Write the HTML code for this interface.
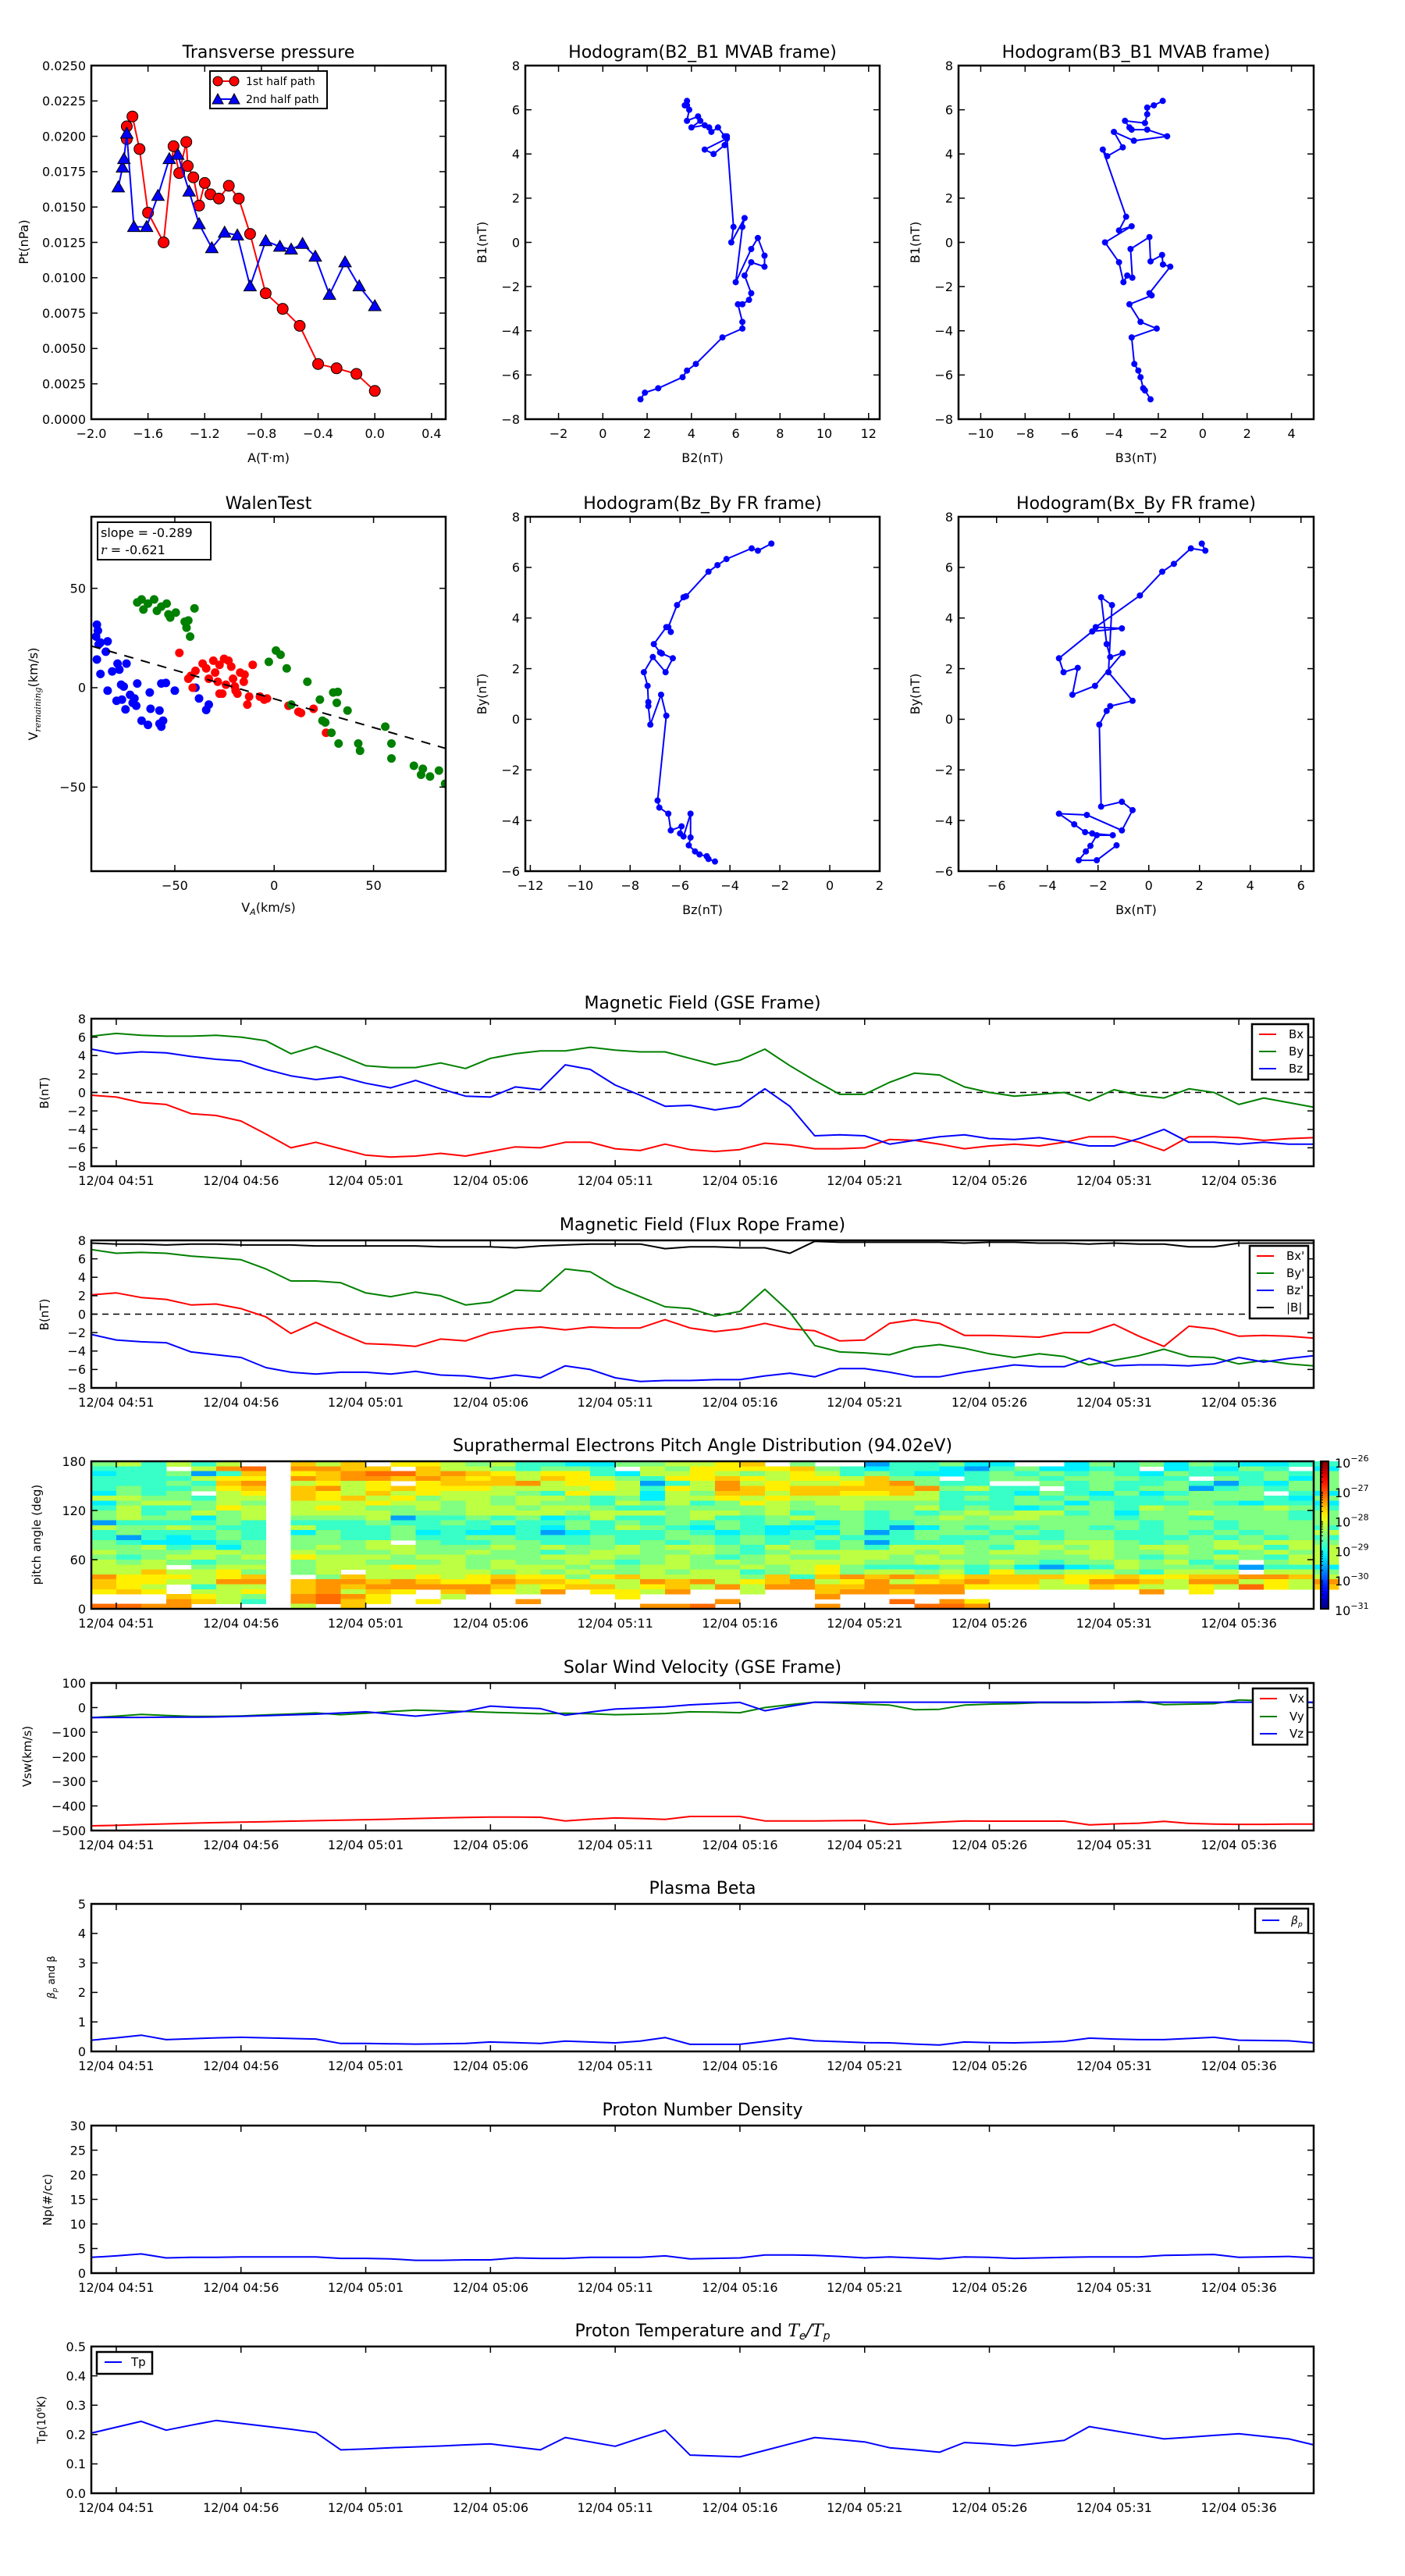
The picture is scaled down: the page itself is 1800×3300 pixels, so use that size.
<!DOCTYPE html>
<html><head><meta charset="utf-8">
<style>
html,body{margin:0;padding:0;background:#fff;}
svg{display:block;font-family:"DejaVu Sans","Liberation Sans",sans-serif;}
</style></head>
<body>
<svg id="fig" width="1800" height="3300" viewBox="0 0 1800 3300" xmlns="http://www.w3.org/2000/svg">
<rect x="0" y="0" width="1800" height="3300" fill="#fff"/>
</svg>
<script>
// ---------- Transverse pressure data ----------
const tpA1 = [-1.75,-1.75,-1.71,-1.66,-1.60,-1.49,-1.42,-1.38,-1.33,-1.32,-1.28,-1.24,-1.20,-1.16,-1.10,-1.03,-0.96,-0.88,-0.77,-0.65,-0.53,-0.40,-0.27,-0.13,0.0];
const tpP1 = [0.0198,0.0207,0.0214,0.0191,0.0146,0.0125,0.0193,0.0174,0.0196,0.0179,0.0171,0.0151,0.0167,0.0159,0.0156,0.0165,0.0156,0.0131,0.0089,0.0078,0.0066,0.0039,0.0036,0.0032,0.0020];
const tpA2 = [-1.81,-1.78,-1.77,-1.75,-1.70,-1.61,-1.53,-1.45,-1.39,-1.31,-1.24,-1.15,-1.06,-0.97,-0.88,-0.77,-0.67,-0.59,-0.51,-0.42,-0.32,-0.21,-0.11,0.0];
const tpP2 = [0.0164,0.0178,0.0184,0.0202,0.0136,0.0136,0.0158,0.0184,0.0187,0.0161,0.0138,0.0121,0.0132,0.0130,0.0094,0.0126,0.0122,0.0120,0.0124,0.0115,0.0088,0.0111,0.0094,0.0080];
// ---------- Hodograms ----------
const hB2 = [3.8,3.8,3.7,3.9,3.8,4.3,4.4,4.0,4.6,4.8,4.9,5.2,5.5,5.6,4.6,5.0,5.5,5.6,5.9,5.8,6.4,6.3,6.0,6.7,7.0,7.3,7.3,6.7,6.4,6.7,6.6,6.3,6.1,6.3,6.3,5.4,4.2,3.8,3.6,2.5,1.9,1.7];
const hB1a = [6.4,6.2,6.2,6.0,5.5,5.7,5.5,5.2,5.3,5.2,5.0,5.2,4.8,4.7,4.2,4.0,4.4,4.8,0.7,0.0,1.1,0.7,-1.8,-0.3,0.2,-0.6,-1.1,-0.9,-1.5,-2.3,-2.6,-2.8,-2.8,-3.6,-3.9,-4.3,-5.5,-5.8,-6.1,-6.6,-6.8,-7.1];
const hB3 = [-1.8,-2.2,-2.5,-2.5,-2.6,-3.5,-3.3,-3.2,-2.5,-1.6,-3.1,-4.0,-3.6,-4.3,-4.5,-3.45,-3.77,-3.2,-4.4,-3.77,-3.57,-3.4,-3.17,-3.25,-2.4,-2.35,-1.83,-1.79,-1.46,-2.4,-2.3,-3.3,-2.8,-2.07,-3.2,-3.08,-2.9,-2.8,-2.68,-2.6,-2.35];
const hB1b = [6.4,6.2,6.1,5.8,5.4,5.5,5.2,5.1,5.1,4.8,4.6,5.0,4.3,3.9,4.2,1.16,0.54,0.73,0.0,-0.9,-1.8,-1.5,-1.6,-0.3,0.24,-0.86,-0.57,-1.0,-1.1,-2.3,-2.4,-2.8,-3.6,-3.9,-4.3,-5.5,-5.8,-6.1,-6.6,-6.7,-7.1];
const hBz = [-2.34,-2.88,-3.13,-4.14,-4.5,-4.86,-5.76,-5.86,-6.12,-6.47,-6.37,-6.55,-7.05,-6.8,-6.73,-6.29,-6.58,-7.09,-7.45,-7.3,-7.27,-7.27,-7.19,-6.76,-6.55,-6.9,-6.83,-6.47,-6.37,-5.94,-6.0,-5.86,-5.58,-5.58,-5.65,-5.4,-5.22,-4.93,-4.86,-4.6];
const hByA = [6.94,6.66,6.75,6.33,6.09,5.83,4.86,4.82,4.51,3.64,3.45,3.64,2.97,2.64,2.6,2.41,1.86,2.46,1.86,1.32,0.68,0.52,-0.21,0.97,0.14,-3.21,-3.49,-3.73,-4.39,-4.23,-4.51,-4.63,-3.73,-4.67,-4.98,-5.22,-5.34,-5.41,-5.52,-5.62];
const hBx = [2.09,2.23,1.66,0.99,0.53,-0.35,-2.09,-1.06,-2.23,-3.54,-3.36,-2.8,-3.01,-2.12,-1.03,-1.52,-1.66,-1.88,-1.45,-1.59,-0.64,-1.52,-1.66,-1.95,-1.88,-1.06,-0.64,-1.06,-2.44,-3.54,-2.94,-2.51,-2.23,-1.42,-2.05,-2.3,-2.48,-2.76,-2.05,-1.27];
const hByB = [6.94,6.66,6.75,6.14,5.83,4.89,3.64,3.59,3.47,2.41,1.86,2.03,0.97,1.32,2.62,2.46,2.97,4.82,4.51,1.86,0.73,0.52,0.33,-0.21,-3.45,-3.26,-3.59,-4.39,-3.78,-3.73,-4.15,-4.46,-4.51,-4.58,-4.58,-5.0,-5.22,-5.57,-5.57,-4.98];
// ---------- Walen test ----------
const walBlueX = [-89.2,-88.7,-89.6,-88.3,-87.4,-83.8,-89.2,-84.7,-87.4,-81.5,-77.9,-78.8,-74.3,-83.8,-77,-75.7,-76.6,-74.8,-79.3,-72.5,-70.3,-68.9,-71.2,-69.4,-66.7,-63.5,-62.6,-62.2,-57.7,-56.8,-54.5,-50,-57.7,-56.8,-55.9,-37.8,-34.2,-32.9,-39.6];
const walBlueY = [31.7,28.7,25.7,21.8,22.7,23.3,14.2,18.1,6.9,8.2,9.1,12.1,12.1,-1.5,1.5,0.6,-6,-10.9,-6.6,-3.6,-5.4,2.1,-7.6,-9.1,-16.6,-18.7,-2.4,-10.6,-11.5,2.1,2.4,-1.5,-18.1,-19.6,-16.6,-5.4,-11.2,-8.5,0];
const walRedX = [-47.7,-43.2,-41.9,-39.6,-41,-36,-34.2,-32.9,-30.6,-29.7,-28.4,-27.5,-26.1,-24.3,-23,-21.6,-20.7,-19.4,-18.5,-17.1,-14.9,-13.5,-12.6,-10.8,-7.2,-5,-3.6,7.2,12.2,13.5,19.8,26.1,-27.5,-25.2,-19.8,-15.3];
const walRedY = [17.5,4.5,6,8.5,0,12.1,9.7,4.5,13.6,7.6,3,-3,-3,1.5,13.6,10.6,4.5,-1.5,-3,7.6,6.6,-8.5,-4.5,11.5,-4.5,-6,-5.4,-9.1,-12.1,-12.7,-10.6,-22.7,11.5,14.5,0.6,3];
const walGreenX = [-68.9,-66.7,-65.8,-63.5,-60.4,-59,-56.8,-54.1,-53.2,-52.3,-49.5,-45,-44.1,-43.2,-42.3,-40.1,-2.7,0.9,3.2,6.3,8.6,16.7,23,24.3,25.7,28.8,29.7,31.5,32,32.4,36.9,42.3,43.2,55.9,59,59,70.3,74.8,73.9,78.4,82.9,86];
const walGreenY = [42.9,44.4,39.3,42.3,44.4,38.7,40.8,42.3,36.9,35.3,37.8,33.2,30.2,33.8,25.7,39.9,13,18.7,16.6,9.7,-8.5,3,-6,-16.6,-17.5,-22.7,-2.4,-7.6,-2.1,-28.1,-11.5,-28.1,-31.7,-19.6,-28.1,-35.6,-39.3,-40.8,-43.8,-44.7,-41.7,-48.3];
const walenSlope = -0.289;
const walenIntercept = -5.6;
const walenR = -0.621;
// ---------- Time series (1-min cadence starting 04:50) ----------
const timeTickMinutes = [1,6,11,16,21,26,31,36,41,46];
const timeTickLabels = ["12/04 04:51","12/04 04:56","12/04 05:01","12/04 05:06","12/04 05:11","12/04 05:16","12/04 05:21","12/04 05:26","12/04 05:31","12/04 05:36"];
const gseBx = [-0.3,-0.5,-1.1,-1.3,-2.3,-2.5,-3.1,-4.5,-6.0,-5.4,-6.1,-6.8,-7.0,-6.9,-6.6,-6.9,-6.4,-5.9,-6.0,-5.4,-5.4,-6.1,-6.3,-5.6,-6.2,-6.4,-6.2,-5.5,-5.7,-6.1,-6.1,-6.0,-5.1,-5.2,-5.6,-6.1,-5.8,-5.6,-5.8,-5.4,-4.8,-4.8,-5.4,-6.3,-4.8,-4.8,-4.9,-5.2,-5.0,-4.9];
const gseBy = [6.1,6.4,6.2,6.1,6.1,6.2,6.0,5.6,4.2,5.0,4.0,2.9,2.7,2.7,3.2,2.6,3.7,4.2,4.5,4.5,4.9,4.6,4.4,4.4,3.7,3.0,3.5,4.7,2.9,1.3,-0.2,-0.2,1.1,2.1,1.9,0.6,0.0,-0.4,-0.2,0.0,-0.9,0.3,-0.3,-0.6,0.4,0.0,-1.3,-0.6,-1.1,-1.6];
const gseBz = [4.7,4.2,4.4,4.3,3.9,3.6,3.4,2.5,1.8,1.4,1.7,1.0,0.5,1.3,0.4,-0.4,-0.5,0.6,0.3,3.0,2.5,0.8,-0.3,-1.5,-1.4,-1.9,-1.5,0.4,-1.5,-4.7,-4.6,-4.7,-5.6,-5.2,-4.8,-4.6,-5.0,-5.1,-4.9,-5.3,-5.8,-5.8,-5.0,-4.0,-5.4,-5.4,-5.6,-5.4,-5.6,-5.6];
const frBx = [2.1,2.3,1.8,1.6,1.0,1.1,0.6,-0.3,-2.1,-0.9,-2.1,-3.2,-3.3,-3.5,-2.7,-2.9,-2.0,-1.6,-1.4,-1.7,-1.4,-1.5,-1.5,-0.6,-1.5,-1.9,-1.6,-1.0,-1.6,-1.8,-2.9,-2.8,-1.0,-0.6,-1.0,-2.3,-2.3,-2.4,-2.5,-2.0,-2.0,-1.1,-2.4,-3.5,-1.3,-1.6,-2.4,-2.3,-2.4,-2.6];
const frBy = [7.0,6.6,6.7,6.6,6.3,6.1,5.9,4.9,3.6,3.6,3.4,2.3,1.9,2.4,2.0,1.0,1.3,2.6,2.5,4.9,4.6,3.0,1.9,0.8,0.6,-0.2,0.3,2.7,0.2,-3.4,-4.1,-4.2,-4.4,-3.6,-3.3,-3.7,-4.3,-4.7,-4.3,-4.6,-5.5,-5.0,-4.5,-3.8,-4.6,-4.7,-5.4,-5.0,-5.4,-5.6];
const frBz = [-2.2,-2.8,-3.0,-3.1,-4.1,-4.4,-4.7,-5.8,-6.3,-6.5,-6.3,-6.3,-6.5,-6.2,-6.6,-6.7,-7.0,-6.6,-6.9,-5.6,-6.0,-6.9,-7.3,-7.2,-7.2,-7.1,-7.1,-6.7,-6.4,-6.8,-5.9,-5.9,-6.3,-6.8,-6.8,-6.3,-5.9,-5.5,-5.7,-5.7,-4.8,-5.6,-5.5,-5.5,-5.6,-5.4,-4.7,-5.2,-4.8,-4.5];
const frBt = [7.7,7.6,7.6,7.5,7.6,7.6,7.5,7.5,7.5,7.4,7.4,7.4,7.4,7.4,7.3,7.3,7.3,7.2,7.4,7.5,7.6,7.6,7.6,7.1,7.3,7.3,7.2,7.2,6.6,7.9,7.8,7.8,7.8,7.8,7.8,7.7,7.8,7.8,7.7,7.7,7.6,7.7,7.6,7.6,7.3,7.3,7.7,7.7,7.7,7.7];
// Pitch-angle distribution: rows top (174-180 deg) to bottom (0-6 deg), one char per minute column
const padCodes = ["b","c","t","g","l","y","o","O","r"];
const padLogValues = [-29.6,-29.2,-28.85,-28.5,-28.2,-27.8,-27.6,-27.35,-27.15];
const padRows = [
"gltltl."+"."+"olo.yylglttccggllyo.g"+"..bttgcc..cgtgcgtcctt",
"ttt.lOr"+"."+"OOoo.ollgtggt.lgyyyyo"+"gtcttcbtgcctt.ctcgt.c",
"cttgbto"+"."+"yoOrroOoylyytcllylgly"+"ltgtcctgtgtgtcgtttgtg",
"ttttlyy"+"."+"OoOOoOoyoloylgtyyoyly"+"ylogg.tggtgggtt.gtgcg",
"tttgtoO"+"."+"lyly.yoooOlyylbtlOlyl"+"lyoOgtt..gtgttgtbtcgg",
"tgttgyo"+"."+"oOlyoyyyllllyltylOoyo"+"ooooOgltt.tgtggbtgtgg",
"cgtg.ly"+"."+"oylolylllgtyllclgoolo"+"oyyoltttcgtcgctggg.tc",
"llggtll"+"."+"oyolygllgllgtgcllylyl"+"llllltgtgtgtttggggtcg",
"cgllglg"+"."+"lllyllglglggtlgltgylg"+"llgggtttggcgtttgtcttc",
"tlttgyl"+"."+"lylgglgllgllgttgggglg"+"glggltgtctggtlgggglgt",
"gltglgl"+"."+"llllgggllllglllgllglt"+"ggtgtglglltgcgglgggtg",
"glggcgl"+"."+"ggglbttgtgctlttglttgl"+"ggtgglgllgggtggtgggtg",
"bttttgt"+"."+"tttgttgtgttgtgtgtgtgt"+"cgttgggggggggtggtgggg",
"lgglgtt"+"."+"ltttgtttctcgtlgtcgtcc"+"tgtbcgtgtggtgtggtgggt",
"tgtttgt"+"."+"cgttgctcctbctttgtctct"+"cgbtgggtgtggttgtgtggl",
"tbtctgt"+"."+"ggttgttggtttgttggtgtt"+"gtttgttgttggtttgtgtgt",
"gtccctg"+"."+"gggl.gttggttgtgtgtgtg"+"tgbtttgglgllgtgglgllg",
"ggltgcg"+"."+"glgllggglglgglgllgtlg"+"tgtlllgtllglgllglltll",
"lgggllg"+"."+"lggglgglggtgllgglgtgl"+"llllglgllgllgglgtglgl",
"gtgllgl"+"."+"ylllgllggglllgglgtglg"+"gllglgggggglgtgglgtll",
"lglgtgg"+"."+"gllggglglgglgtglglgll"+"llggllglgtgglgltg.gll",
"lll.gll"+"."+"glllyllglllglgllgglgl"+"ygtttgtgcbctlgggtbttc",
"llollyg"+"."+"gl.lllllglglgglglltgl"+"ygllgltyggllgtlll.llg",
"Oyyylyo"+"."+".gollylyoyygyollllgot"+"oOoOoyooooyyoyyooOOol",
"oyyllOO"+"."+"oOOoOoyyOooyllOoOlyoO"+"lyOlyoOoolyOOolOOlylO",
"oyl.tll"+"."+"oOoOOOOOolyoolyolOlOO"+"ooOOOOyyylloyllylrylo",
"yoy.lly"+"."+"oOloy.oOylO.yylO..l.."+"oOOoOO.......O.y.....",
"...oylg"+"."+"OrOy..l......y.......O"+".....................",
"...Oolt"+"."+"Oroy.y...O.......O..."+"...r.Oy..............",
"rrOO..."+"."+"l.o...........OOr...."+"O...rrO.............."
];
const vx = [-481,-479,-476,-473,-470,-468,-466,-464,-462,-460,-458,-456,-454,-451,-449,-447,-445,-445,-446,-461,-454,-449,-451,-455,-443,-443,-443,-461,-461,-461,-460,-459,-475,-471,-466,-461,-462,-462,-462,-462,-477,-473,-470,-463,-471,-474,-475,-475,-474,-474];
const vy = [-41,-35,-28,-32,-36,-36,-34,-30,-26,-22,-29,-23,-16,-10,-13,-16,-19,-22,-25,-23,-25,-29,-27,-24,-17,-18,-21,0,12,22,18,14,10,-9,-7,10,14,16,20,20,20,22,26,12,14,16,31,28,24,20];
const vz = [-41,-40,-40,-39,-39,-38,-36,-33,-30,-27,-22,-17,-26,-35,-25,-15,6,0,-4,-31,-18,-6,-2,3,11,16,21,-13,5,22,22,22,22,22,22,22,22,22,22,22,22,22,22,22,22,22,22,22,22,22];
const betaP = [0.38,0.46,0.55,0.40,0.43,0.46,0.48,0.46,0.44,0.42,0.27,0.27,0.26,0.25,0.26,0.27,0.32,0.30,0.27,0.35,0.32,0.29,0.35,0.47,0.24,0.24,0.24,0.34,0.45,0.36,0.33,0.30,0.29,0.25,0.22,0.32,0.30,0.29,0.31,0.34,0.45,0.42,0.40,0.40,0.44,0.48,0.38,0.37,0.36,0.29];
const np = [3.2,3.5,3.9,3.1,3.2,3.2,3.3,3.3,3.3,3.3,3.0,3.0,2.9,2.6,2.6,2.7,2.7,3.1,3.0,3.0,3.2,3.2,3.2,3.5,2.9,3.0,3.1,3.7,3.7,3.6,3.4,3.1,3.3,3.1,2.9,3.3,3.2,3.0,3.1,3.2,3.3,3.3,3.3,3.6,3.7,3.8,3.2,3.3,3.4,3.1];
const tp = [0.205,0.225,0.245,0.215,0.232,0.248,0.238,0.228,0.218,0.207,0.148,0.151,0.155,0.158,0.161,0.165,0.168,0.158,0.148,0.190,0.175,0.160,0.188,0.215,0.130,0.127,0.124,0.146,0.168,0.190,0.183,0.175,0.155,0.148,0.140,0.173,0.168,0.162,0.171,0.180,0.227,0.213,0.199,0.185,0.191,0.197,0.203,0.194,0.185,0.165];

// ---------- rendering ----------
const NS = 'http://www.w3.org/2000/svg';
const svg = document.getElementById('fig');
function el(parent, tag, attrs, name) {
  const e = document.createElementNS(NS, tag);
  for (const k in attrs) e.setAttribute(k, attrs[k]);
  
  
  parent.appendChild(e);
  return e;
}
function txt(parent, x, y, s, size, anchor, name, extra) {
  const a = Object.assign({x: x, y: y, 'font-size': size, 'text-anchor': anchor || 'middle', fill: '#000'}, extra || {});
  const t = el(parent, 'text', a, name);
  t.textContent = s;
  return t;
}
const mn = s => String(s).replace('-', '\u2212');
function axes(name, x0, y0, x1, y1, xd, yd) {
  const g = el(svg, 'g', {}, name);
  const sx = v => x0 + (v - xd[0]) / (xd[1] - xd[0]) * (x1 - x0);
  const sy = v => y1 - (v - yd[0]) / (yd[1] - yd[0]) * (y1 - y0);
  return {g, sx, sy, x0, y0, x1, y1};
}
function frame(ax, xt, xl, yt, yl, fs) {
  const g = el(ax.g, 'g', {stroke: '#000', 'stroke-width': 1.5}, 'tick-marks');
  xt.forEach((v, i) => {
    const x = ax.sx(v);
    el(g, 'line', {x1: x, x2: x, y1: ax.y1, y2: ax.y1 - 8}, 'x-tick');
    el(g, 'line', {x1: x, x2: x, y1: ax.y0, y2: ax.y0 + 8}, 'x-tick-top');
    if (xl) txt(ax.g, x, ax.y1 + 24, xl[i], fs, 'middle', 'x-tick-label');
  });
  yt.forEach((v, i) => {
    const y = ax.sy(v);
    el(g, 'line', {x1: ax.x0, x2: ax.x0 + 8, y1: y, y2: y}, 'y-tick');
    el(g, 'line', {x1: ax.x1, x2: ax.x1 - 8, y1: y, y2: y}, 'y-tick-right');
    if (yl) txt(ax.g, ax.x0 - 7, y + fs * 0.36, yl[i], fs, 'end', 'y-tick-label');
  });
  el(ax.g, 'rect', {x: ax.x0, y: ax.y0, width: ax.x1 - ax.x0, height: ax.y1 - ax.y0, fill: 'none', stroke: '#000', 'stroke-width': 2.5}, 'axes-frame');
}
function rng(a, b, s) { const r = []; for (let v = a; v <= b + 1e-9; v += s) r.push(Math.round(v * 10000) / 10000); return r; }
function poly(ax, xs, ys, color, name, w) {
  const pts = xs.map((x, i) => ax.sx(x).toFixed(1) + ',' + ax.sy(ys[i]).toFixed(1)).join(' ');
  return el(ax.g, 'polyline', {points: pts, fill: 'none', stroke: color, 'stroke-width': w || 2, 'stroke-linejoin': 'round'}, name);
}
function dots(ax, xs, ys, color, r, name) {
  const g = el(ax.g, 'g', {fill: color}, name + '-group');
  xs.forEach((x, i) => el(g, 'circle', {cx: ax.sx(x), cy: ax.sy(ys[i]), r: r}, name));
}
function title(x, y, s, name) { return txt(svg, x, y, s, 22, 'middle', name); }
function ylab(x, y, s, name, fs) { return txt(svg, x, y, s, fs || 16, 'middle', name, {transform: 'rotate(-90 ' + x + ' ' + y + ')'}); }
function clip(ax, id) {
  const d = el(ax.g, 'clipPath', {id: id}, 'clip-region');
  el(d, 'rect', {x: ax.x0, y: ax.y0, width: ax.x1 - ax.x0, height: ax.y1 - ax.y0}, 'clip-rect');
  return el(ax.g, 'g', {'clip-path': 'url(#' + id + ')'}, 'plot-area');
}

// ---- Transverse pressure ----
{
  const ax = axes('transverse-pressure-chart', 117, 84, 571, 537, [-2.0, 0.5], [0, 0.025]);
  title(344, 74, 'Transverse pressure', 'transverse-pressure-title');
  poly(ax, tpA1, tpP1, '#f00', 'first-half-line', 2);
  tpA1.forEach((a, i) => el(ax.g, 'circle', {cx: ax.sx(a), cy: ax.sy(tpP1[i]), r: 7, fill: '#f00', stroke: '#000', 'stroke-width': 1}, 'first-half-marker'));
  poly(ax, tpA2, tpP2, '#00f', 'second-half-line', 2);
  tpA2.forEach((a, i) => { const x = ax.sx(a), y = ax.sy(tpP2[i]);
    el(ax.g, 'polygon', {points: `${x},${y-8} ${x-8},${y+6} ${x+8},${y+6}`, fill: '#00f', stroke: '#000', 'stroke-width': 1}, 'second-half-marker'); });
  const xt = [-2.0,-1.6,-1.2,-0.8,-0.4,0.0,0.4];
  frame(ax, xt, xt.map(v => mn(v.toFixed(1))), rng(0, 0.025, 0.0025), rng(0, 0.025, 0.0025).map(v => v.toFixed(4)), 16);
  txt(svg, 344, 592, 'A(T\u00b7m)', 16, 'middle', 'x-axis-title');
  ylab(36, 310, 'Pt(nPa)', 'y-axis-title');
  const lg = el(svg, 'g', {}, 'legend');
  el(lg, 'rect', {x: 269, y: 91, width: 150, height: 48, fill: '#fff', stroke: '#000', 'stroke-width': 2}, 'legend-frame');
  el(lg, 'line', {x1: 279, x2: 300, y1: 104, y2: 104, stroke: '#f00', 'stroke-width': 2}, 'legend-line');
  [279, 300].forEach(x => el(lg, 'circle', {cx: x, cy: 104, r: 6, fill: '#f00', stroke: '#000'}, 'legend-marker'));
  txt(lg, 315, 109, '1st half path', 14, 'start', 'legend-entry');
  el(lg, 'line', {x1: 279, x2: 300, y1: 127, y2: 127, stroke: '#00f', 'stroke-width': 2}, 'legend-line');
  [279, 300].forEach(x => el(lg, 'polygon', {points: `${x},${120} ${x-7},${133} ${x+7},${133}`, fill: '#00f', stroke: '#000'}, 'legend-marker'));
  txt(lg, 315, 132, '2nd half path', 14, 'start', 'legend-entry');
}
// ---- hodograms ----
function hodo(name, x0, x1, y0, y1, xd, yd, xs, ys, xt, yt, ttl, xlbl, ylbl) {
  const ax = axes(name, x0, y0, x1, y1, xd, yd);
  title((x0 + x1) / 2, y0 - 10, ttl, name + '-title');
  const p = clip(ax, name + '-clip');
  const pts = xs.map((x, i) => ax.sx(x).toFixed(1) + ',' + ax.sy(ys[i]).toFixed(1)).join(' ');
  el(p, 'polyline', {points: pts, fill: 'none', stroke: '#00f', 'stroke-width': 2}, 'hodogram-path');
  xs.forEach((x, i) => el(p, 'circle', {cx: ax.sx(x), cy: ax.sy(ys[i]), r: 4, fill: '#00f'}, 'hodogram-point'));
  frame(ax, xt, xt.map(mn), yt, yt.map(mn), 16);
  txt(svg, (x0 + x1) / 2, y1 + 55, xlbl, 16, 'middle', 'x-axis-title');
  ylab(x0 - 50, (y0 + y1) / 2, ylbl, 'y-axis-title');
}
hodo('hodogram-b2-b1', 673, 1127, 84, 537, [-3.5, 12.5], [-8, 8], hB2, hB1a, rng(-2, 12, 2), rng(-8, 8, 2), 'Hodogram(B2_B1 MVAB frame)', 'B2(nT)', 'B1(nT)');
hodo('hodogram-b3-b1', 1228, 1683, 84, 537, [-11, 5], [-8, 8], hB3, hB1b, rng(-10, 4, 2), rng(-8, 8, 2), 'Hodogram(B3_B1 MVAB frame)', 'B3(nT)', 'B1(nT)');
hodo('hodogram-bz-by', 673, 1127, 662, 1116, [-12.2, 2.0], [-6, 8], hBz, hByA, rng(-12, 2, 2), rng(-6, 8, 2), 'Hodogram(Bz_By FR frame)', 'Bz(nT)', 'By(nT)');
hodo('hodogram-bx-by', 1228, 1683, 662, 1116, [-7.5, 6.5], [-6, 8], hBx, hByB, rng(-6, 6, 2), rng(-6, 8, 2), 'Hodogram(Bx_By FR frame)', 'Bx(nT)', 'By(nT)');
// ---- Walen ----
{
  const ax = axes('walen-test-chart', 117, 662, 571, 1116, [-92, 86.3], [-92.3, 86]);
  title(344, 652, 'WalenTest', 'walen-title');
  const p = clip(ax, 'walen-clip');
  const sub = {g: p, sx: ax.sx, sy: ax.sy};
  dots(sub, walBlueX, walBlueY, '#00f', 5.5, 'walen-point-blue');
  dots(sub, walRedX, walRedY, '#f00', 5.5, 'walen-point-red');
  dots(sub, walGreenX, walGreenY, '#008000', 5.5, 'walen-point-green');
  el(p, 'line', {x1: ax.sx(-92), y1: ax.sy(walenSlope * -92 + walenIntercept), x2: ax.sx(86), y2: ax.sy(walenSlope * 86 + walenIntercept), stroke: '#000', 'stroke-width': 2, 'stroke-dasharray': '12,10'}, 'fit-line');
  frame(ax, [-50, 0, 50], ['\u221250', '0', '50'], [-50, 0, 50], ['\u221250', '0', '50'], 16);
  const t = txt(svg, 344, 1168, 'V', 16, 'middle', 'x-axis-title');
  const ts = document.createElementNS(NS, 'tspan'); ts.setAttribute('font-size', 11); ts.setAttribute('font-style', 'italic'); ts.setAttribute('dy', 4); ts.textContent = 'A'; t.appendChild(ts);
  const ts2 = document.createElementNS(NS, 'tspan'); ts2.setAttribute('dy', -4); ts2.textContent = '(km/s)'; t.appendChild(ts2);
  const yl = ylab(48, 889, 'V', 'y-axis-title');
  const a = document.createElementNS(NS, 'tspan'); a.setAttribute('font-size', 11); a.setAttribute('font-style', 'italic'); a.setAttribute('font-family', 'DejaVu Serif, serif'); a.setAttribute('dy', 4); a.textContent = 'remaining'; yl.appendChild(a);
  const b = document.createElementNS(NS, 'tspan'); b.setAttribute('dy', -4); b.textContent = '(km/s)'; yl.appendChild(b);
  const lg = el(svg, 'g', {}, 'walen-stats-box');
  el(lg, 'rect', {x: 125, y: 669, width: 145, height: 48, fill: '#fff', stroke: '#000', 'stroke-width': 2}, 'stats-frame');
  txt(lg, 129, 688, 'slope = ' + walenSlope.toFixed(3), 16, 'start', 'slope-text');
  const rt = txt(lg, 129, 710, '', 16, 'start', 'r-text');
  const ri = document.createElementNS(NS, 'tspan'); ri.setAttribute('font-style', 'italic'); ri.setAttribute('font-family', 'DejaVu Serif, serif'); ri.textContent = 'r'; rt.appendChild(ri);
  const rr = document.createElementNS(NS, 'tspan'); rr.textContent = ' = ' + walenR.toFixed(3); rt.appendChild(rr);
}
// ---- time series panels ----
const TX0 = 117, TX1 = 1683, TD = [0, 49];
function tpanel(name, y0, y1, yd, yt, ylabels, ttl) {
  const ax = axes(name, TX0, y0, TX1, y1, TD, yd);
  if (ttl) title((TX0 + TX1) / 2, y0 - 13, ttl, name + '-title');
  return ax;
}
const mins = gseBx.map((_, i) => i);
function legend(name, x0, y0, w, rowsY, labels, colors, fs) {
  const lg = el(svg, 'g', {}, name);
  el(lg, 'rect', {x: x0, y: y0, width: w, height: rowsY[rowsY.length - 1] - y0 + 14, fill: '#fff', stroke: '#000', 'stroke-width': 2.5}, 'legend-frame');
  labels.forEach((l, i) => {
    el(lg, 'line', {x1: x0 + 9, x2: x0 + 31, y1: rowsY[i], y2: rowsY[i], stroke: colors[i], 'stroke-width': 2}, 'legend-line');
    txt(lg, x0 + 47, rowsY[i] + 5, l, fs || 15, 'start', 'legend-entry');
  });
}
// GSE
{
  const ax = tpanel('magnetic-field-gse-chart', 1305, 1494, [-8, 8], null, null, 'Magnetic Field (GSE Frame)');
  el(ax.g, 'line', {x1: TX0, x2: TX1, y1: ax.sy(0), y2: ax.sy(0), stroke: '#000', 'stroke-width': 1.5, 'stroke-dasharray': '8,6'}, 'zero-line');
  poly(ax, mins, gseBx, '#f00', 'bx-line');
  poly(ax, mins, gseBy, '#008000', 'by-line');
  poly(ax, mins, gseBz, '#00f', 'bz-line');
  frame(ax, timeTickMinutes, timeTickLabels, rng(-8, 8, 2), rng(-8, 8, 2).map(mn), 16);
  ylab(62, 1400, 'B(nT)', 'y-axis-title', 15);
  legend('gse-legend', 1604, 1312, 72, [1325, 1347, 1369], ['Bx', 'By', 'Bz'], ['#f00', '#008000', '#00f']);
}
// Flux rope
{
  const ax = tpanel('magnetic-field-fr-chart', 1589, 1778, [-8, 8], null, null, 'Magnetic Field (Flux Rope Frame)');
  const p = clip(ax, 'fr-clip');
  const sub = {g: p, sx: ax.sx, sy: ax.sy};
  el(p, 'line', {x1: TX0, x2: TX1, y1: ax.sy(0), y2: ax.sy(0), stroke: '#000', 'stroke-width': 1.5, 'stroke-dasharray': '8,6'}, 'zero-line');
  poly(sub, mins, frBx, '#f00', 'bx-prime-line');
  poly(sub, mins, frBy, '#008000', 'by-prime-line');
  poly(sub, mins, frBz, '#00f', 'bz-prime-line');
  poly(sub, mins, frBt, '#000', 'b-magnitude-line');
  frame(ax, timeTickMinutes, timeTickLabels, rng(-8, 8, 2), rng(-8, 8, 2).map(mn), 16);
  ylab(62, 1684, 'B(nT)', 'y-axis-title', 15);
  legend('fr-legend', 1601, 1596, 75, [1609, 1631, 1653, 1675], ["Bx'", "By'", "Bz'", '|B|'], ['#f00', '#008000', '#00f', '#000']);
}
// PAD
function jet(t) {
  const c = v => Math.round(255 * Math.max(0, Math.min(1, v)));
  return `rgb(${c(1.5 - Math.abs(4 * t - 3))},${c(1.5 - Math.abs(4 * t - 2))},${c(1.5 - Math.abs(4 * t - 1))})`;
}
{
  const ax = tpanel('pitch-angle-chart', 1872, 2061, [0, 180], null, null, 'Suprathermal Electrons Pitch Angle Distribution (94.02eV)');
  const g = el(ax.g, 'g', {'shape-rendering': 'crispEdges'}, 'heatmap');
  const nR = padRows.length;
  padRows.forEach((row, r) => {
    for (let i = 0; i < 50; i++) {
      const k = padCodes.indexOf(row[i]);
      if (k < 0) continue;
      const v = padLogValues[k];
      const ya = ax.sy(180 - r * 180 / nR), yb = ax.sy(180 - (r + 1) * 180 / nR);
      el(g, 'rect', {x: ax.sx(i), y: ya, width: ax.sx(i + 1) - ax.sx(i) + 0.5, height: yb - ya + 0.5, fill: jet((v + 31) / 5)}, 'heatmap-cell');
    }
  });
  frame(ax, timeTickMinutes, timeTickLabels, [0, 60, 120, 180], ['0', '60', '120', '180'], 16);
  ylab(52, 1966, 'pitch angle (deg)', 'y-axis-title', 15);
  const cb = el(svg, 'g', {}, 'colorbar');
  const defs = el(cb, 'defs', {}, 'colorbar-defs');
  const gr = el(defs, 'linearGradient', {id: 'jetgrad', x1: 0, y1: 1, x2: 0, y2: 0}, 'jet-gradient');
  for (let s = 0; s <= 20; s++) el(gr, 'stop', {offset: s / 20, 'stop-color': jet(s / 20)}, 'gradient-stop');
  el(cb, 'rect', {x: 1692, y: 1872, width: 10, height: 189, fill: 'url(#jetgrad)', stroke: '#000', 'stroke-width': 2}, 'colorbar-bar');
  const exps = [-26, -27, -28, -29, -30, -31];
  exps.forEach((e, i) => {
    const y = 1872 + i * 189 / 5;
    const t = txt(cb, 1710, y + 8, '10', 16, 'start', 'colorbar-label');
    const s = document.createElementNS(NS, 'tspan'); s.setAttribute('font-size', 11); s.setAttribute('dy', -8); s.textContent = mn(e); t.appendChild(s);
    if (i < 5) for (let m = 1; m < 9; m++) {
      const ym = y + (1 - Math.log10(10 - m) ) * 189 / 5;
      el(cb, 'line', {x1: 1692, x2: 1695, y1: ym, y2: ym, stroke: '#000', 'stroke-width': 1}, 'colorbar-minor-tick');
    }
  });
}
// Solar wind
{
  const ax = tpanel('solar-wind-velocity-chart', 2156, 2345, [-500, 100], null, null, 'Solar Wind Velocity (GSE Frame)');
  poly(ax, mins, vx, '#f00', 'vx-line');
  poly(ax, mins, vy, '#008000', 'vy-line');
  poly(ax, mins, vz, '#00f', 'vz-line');
  frame(ax, timeTickMinutes, timeTickLabels, rng(-500, 100, 100), rng(-500, 100, 100).map(mn), 16);
  ylab(40, 2250, 'Vsw(km/s)', 'y-axis-title', 15);
  legend('sw-legend', 1605, 2163, 70, [2176, 2199, 2221], ['Vx', 'Vy', 'Vz'], ['#f00', '#008000', '#00f']);
}
// Beta
{
  const ax = tpanel('plasma-beta-chart', 2439, 2628, [0, 5], null, null, 'Plasma Beta');
  poly(ax, mins, betaP, '#00f', 'beta-p-line');
  frame(ax, timeTickMinutes, timeTickLabels, rng(0, 5, 1), rng(0, 5, 1).map(String), 16);
  const yl = ylab(70, 2533, '\u03b2', 'y-axis-title', 13);
  yl.setAttribute('font-style', 'italic');
  const s1 = document.createElementNS(NS, 'tspan'); s1.setAttribute('font-size', 9); s1.setAttribute('dy', 3); s1.textContent = 'p'; yl.appendChild(s1);
  const s2 = document.createElementNS(NS, 'tspan'); s2.setAttribute('dy', -3); s2.setAttribute('font-style', 'normal'); s2.textContent = ' and \u03b2'; yl.appendChild(s2);
  const lg = el(svg, 'g', {}, 'beta-legend');
  el(lg, 'rect', {x: 1608, y: 2445, width: 68, height: 31, fill: '#fff', stroke: '#000', 'stroke-width': 2.5}, 'legend-frame');
  el(lg, 'line', {x1: 1617, x2: 1639, y1: 2460, y2: 2460, stroke: '#00f', 'stroke-width': 2}, 'legend-line');
  const lt = txt(lg, 1654, 2465, '\u03b2', 14, 'start', 'legend-entry', {'font-style': 'italic'});
  const lp = document.createElementNS(NS, 'tspan'); lp.setAttribute('font-size', 9); lp.setAttribute('dy', 3); lp.textContent = 'p'; lt.appendChild(lp);
}
// Np
{
  const ax = tpanel('proton-density-chart', 2723, 2912, [0, 30], null, null, 'Proton Number Density');
  poly(ax, mins, np, '#00f', 'np-line');
  frame(ax, timeTickMinutes, timeTickLabels, rng(0, 30, 5), rng(0, 30, 5).map(String), 16);
  ylab(66, 2818, 'Np(#/cc)', 'y-axis-title', 15);
}
// Tp
{
  const ax = tpanel('proton-temperature-chart', 3006, 3194, [0, 0.5], null, null, null);
  const t = txt(svg, 900, 2993, 'Proton Temperature and ', 22, 'middle', 'proton-temperature-title');
  const a = document.createElementNS(NS, 'tspan'); a.setAttribute('font-family', 'DejaVu Serif, serif'); a.setAttribute('font-style', 'italic'); a.textContent = 'T'; t.appendChild(a);
  const b = document.createElementNS(NS, 'tspan'); b.setAttribute('font-size', 14); b.setAttribute('font-style', 'italic'); b.setAttribute('dy', 4); b.textContent = 'e'; t.appendChild(b);
  const c = document.createElementNS(NS, 'tspan'); c.setAttribute('dy', -4); c.setAttribute('font-style', 'italic'); c.setAttribute('font-family', 'DejaVu Serif, serif'); c.textContent = '/T'; t.appendChild(c);
  const d = document.createElementNS(NS, 'tspan'); d.setAttribute('font-size', 14); d.setAttribute('font-style', 'italic'); d.setAttribute('dy', 4); d.textContent = 'p'; t.appendChild(d);
  poly(ax, mins, tp, '#00f', 'tp-line');
  frame(ax, timeTickMinutes, timeTickLabels, rng(0, 0.5, 0.1), rng(0, 0.5, 0.1).map(v => v.toFixed(1)), 16);
  const yl = ylab(58, 3100, 'Tp(10', 'y-axis-title', 14);
  const s = document.createElementNS(NS, 'tspan'); s.setAttribute('font-size', 9); s.setAttribute('dy', -5); s.textContent = '6'; yl.appendChild(s);
  const s3 = document.createElementNS(NS, 'tspan'); s3.setAttribute('dy', 5); s3.textContent = 'K)'; yl.appendChild(s3);
  const lg = el(svg, 'g', {}, 'tp-legend');
  el(lg, 'rect', {x: 124, y: 3013, width: 71, height: 28, fill: '#fff', stroke: '#000', 'stroke-width': 2.5}, 'legend-frame');
  el(lg, 'line', {x1: 134, x2: 156, y1: 3026, y2: 3026, stroke: '#00f', 'stroke-width': 2}, 'legend-line');
  txt(lg, 168, 3031, 'Tp', 15, 'start', 'legend-entry');
}
</script>
</body></html>
